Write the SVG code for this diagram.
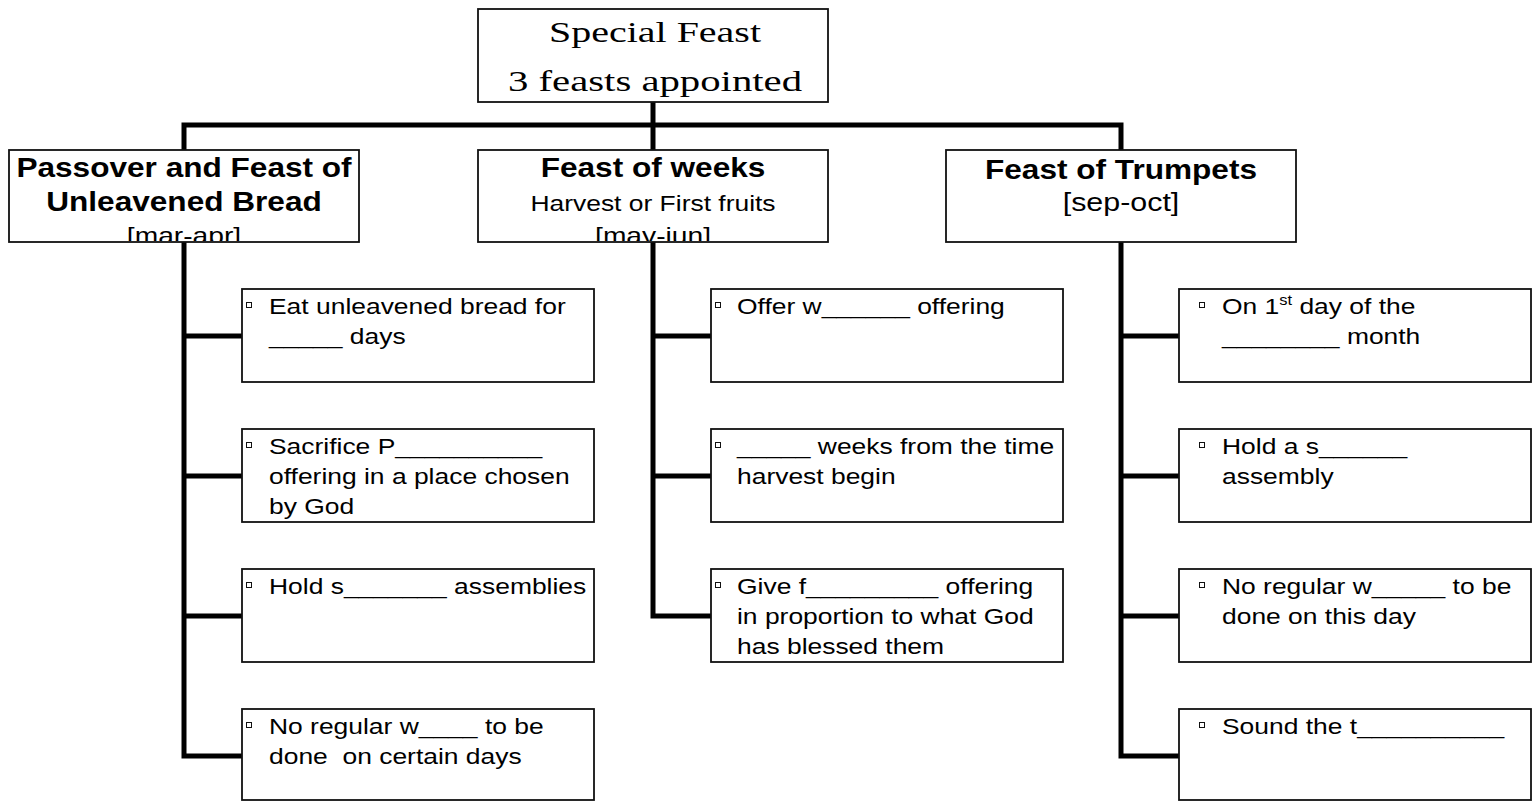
<svg xmlns="http://www.w3.org/2000/svg" width="1538" height="801" viewBox="0 0 1538 801">
<style>
.box{fill:#fff;stroke:#111;stroke-width:1.8}
.bul{fill:#fff;stroke:#111;stroke-width:1}
.con{fill:none;stroke:#000;stroke-width:5;stroke-linejoin:miter;stroke-linecap:butt}
.t{font-family:"Liberation Sans",Arial,sans-serif;font-size:22.5px;fill:#000;white-space:pre}
.hb{font-family:"Liberation Sans",Arial,sans-serif;font-size:27px;font-weight:bold;fill:#000}
.hr{font-family:"Liberation Sans",Arial,sans-serif;font-size:24px;fill:#000}
.top{font-family:"Liberation Serif","DejaVu Serif",serif;font-size:29px;fill:#000}
</style>
<defs>
<clipPath id="clipL" clipPathUnits="userSpaceOnUse"><rect x="9" y="150" width="350" height="91"/></clipPath>
<clipPath id="clipM" clipPathUnits="userSpaceOnUse"><rect x="478" y="150" width="350" height="91"/></clipPath>
</defs>
<rect width="1538" height="801" fill="#fff"/>

<g id="connectors">
<path class="con" d="M653 102 V150"/>
<path class="con" d="M184 150 V125 H1121 V150"/>
<path class="con" d="M184 242 V756 H242 M184 336 H242 M184 476 H242 M184 616 H242"/>
<path class="con" d="M653 242 V616 H711 M653 336 H711 M653 476 H711"/>
<path class="con" d="M1121 242 V756 H1179 M1121 336 H1179 M1121 476 H1179 M1121 616 H1179"/>
</g>

<g id="root">
<rect class="box" x="478" y="9" width="350" height="93"/>
<text class="top" x="655" y="41.5" text-anchor="middle" textLength="212" lengthAdjust="spacingAndGlyphs">Special Feast</text>
<text class="top" x="655" y="91" text-anchor="middle" textLength="294" lengthAdjust="spacingAndGlyphs">3 feasts appointed</text>
</g>

<g id="passover">
<rect class="box" x="9" y="150" width="350" height="92"/>
<text class="hb" text-anchor="middle" transform="translate(184 177) scale(1.17 1)">Passover and Feast of</text>
<text class="hb" text-anchor="middle" transform="translate(184 210.5) scale(1.17 1)">Unleavened Bread</text>
<g clip-path="url(#clipL)"><text class="hr" text-anchor="middle" transform="translate(184 244) scale(1.175 1)">[mar-apr]</text></g>
</g>

<g id="weeks">
<rect class="box" x="478" y="150" width="350" height="92"/>
<text class="hb" text-anchor="middle" transform="translate(653 177) scale(1.17 1)">Feast of weeks</text>
<text class="t" text-anchor="middle" transform="translate(653 210.5) scale(1.175 1)">Harvest or First fruits</text>
<g clip-path="url(#clipM)"><text class="hr" text-anchor="middle" transform="translate(653 244) scale(1.175 1)">[may-jun]</text></g>
</g>

<g id="trumpets">
<rect class="box" x="946" y="150" width="350" height="92"/>
<text class="hb" text-anchor="middle" transform="translate(1121 179) scale(1.17 1)">Feast of Trumpets</text>
<text class="hr" style="font-size:26px" text-anchor="middle" transform="translate(1121 211) scale(1.17 1)">[sep-oct]</text>
</g>

<g id="p1">
<rect class="box" x="242" y="289" width="352" height="93"/>
<rect class="bul" x="246.5" y="302.5" width="5" height="5"/>
<text class="t" transform="translate(269 314) scale(1.175 1)">Eat unleavened bread for</text>
<text class="t" transform="translate(269 344) scale(1.175 1)">_____ days</text>
</g>
<g id="p2">
<rect class="box" x="242" y="429" width="352" height="93"/>
<rect class="bul" x="246.5" y="442.5" width="5" height="5"/>
<text class="t" transform="translate(269 454) scale(1.175 1)">Sacrifice P__________</text>
<text class="t" transform="translate(269 484) scale(1.175 1)">offering in a place chosen</text>
<text class="t" transform="translate(269 514) scale(1.175 1)">by God</text>
</g>
<g id="p3">
<rect class="box" x="242" y="569" width="352" height="93"/>
<rect class="bul" x="246.5" y="582.5" width="5" height="5"/>
<text class="t" transform="translate(269 594) scale(1.175 1)">Hold s_______ assemblies</text>
</g>
<g id="p4">
<rect class="box" x="242" y="709" width="352" height="91"/>
<rect class="bul" x="246.5" y="722.5" width="5" height="5"/>
<text class="t" transform="translate(269 734) scale(1.175 1)">No regular w____ to be</text>
<text class="t" transform="translate(269 764) scale(1.175 1)">done  on certain days</text>
</g>

<g id="w1">
<rect class="box" x="711" y="289" width="352" height="93"/>
<rect class="bul" x="715.5" y="302.5" width="5" height="5"/>
<text class="t" transform="translate(737 314) scale(1.175 1)">Offer w______ offering</text>
</g>
<g id="w2">
<rect class="box" x="711" y="429" width="352" height="93"/>
<rect class="bul" x="715.5" y="442.5" width="5" height="5"/>
<text class="t" transform="translate(737 454) scale(1.175 1)">_____ weeks from the time</text>
<text class="t" transform="translate(737 484) scale(1.175 1)">harvest begin</text>
</g>
<g id="w3">
<rect class="box" x="711" y="569" width="352" height="93"/>
<rect class="bul" x="715.5" y="582.5" width="5" height="5"/>
<text class="t" transform="translate(737 594) scale(1.175 1)">Give f_________ offering</text>
<text class="t" transform="translate(737 624) scale(1.175 1)">in proportion to what God</text>
<text class="t" transform="translate(737 654) scale(1.175 1)">has blessed them</text>
</g>

<g id="t1">
<rect class="box" x="1179" y="289" width="352" height="93"/>
<rect class="bul" x="1199.5" y="302.5" width="5" height="5"/>
<text class="t" transform="translate(1222 314) scale(1.175 1)">On 1<tspan font-size="14" dy="-9">st</tspan><tspan dy="9"> day of the</tspan></text>
<text class="t" transform="translate(1222 344) scale(1.175 1)">________ month</text>
</g>
<g id="t2">
<rect class="box" x="1179" y="429" width="352" height="93"/>
<rect class="bul" x="1199.5" y="442.5" width="5" height="5"/>
<text class="t" transform="translate(1222 454) scale(1.175 1)">Hold a s______</text>
<text class="t" transform="translate(1222 484) scale(1.175 1)">assembly</text>
</g>
<g id="t3">
<rect class="box" x="1179" y="569" width="352" height="93"/>
<rect class="bul" x="1199.5" y="582.5" width="5" height="5"/>
<text class="t" transform="translate(1222 594) scale(1.175 1)">No regular w_____ to be</text>
<text class="t" transform="translate(1222 624) scale(1.175 1)">done on this day</text>
</g>
<g id="t4">
<rect class="box" x="1179" y="709" width="352" height="91"/>
<rect class="bul" x="1199.5" y="722.5" width="5" height="5"/>
<text class="t" transform="translate(1222 734) scale(1.175 1)">Sound the t__________</text>
</g>
</svg>
